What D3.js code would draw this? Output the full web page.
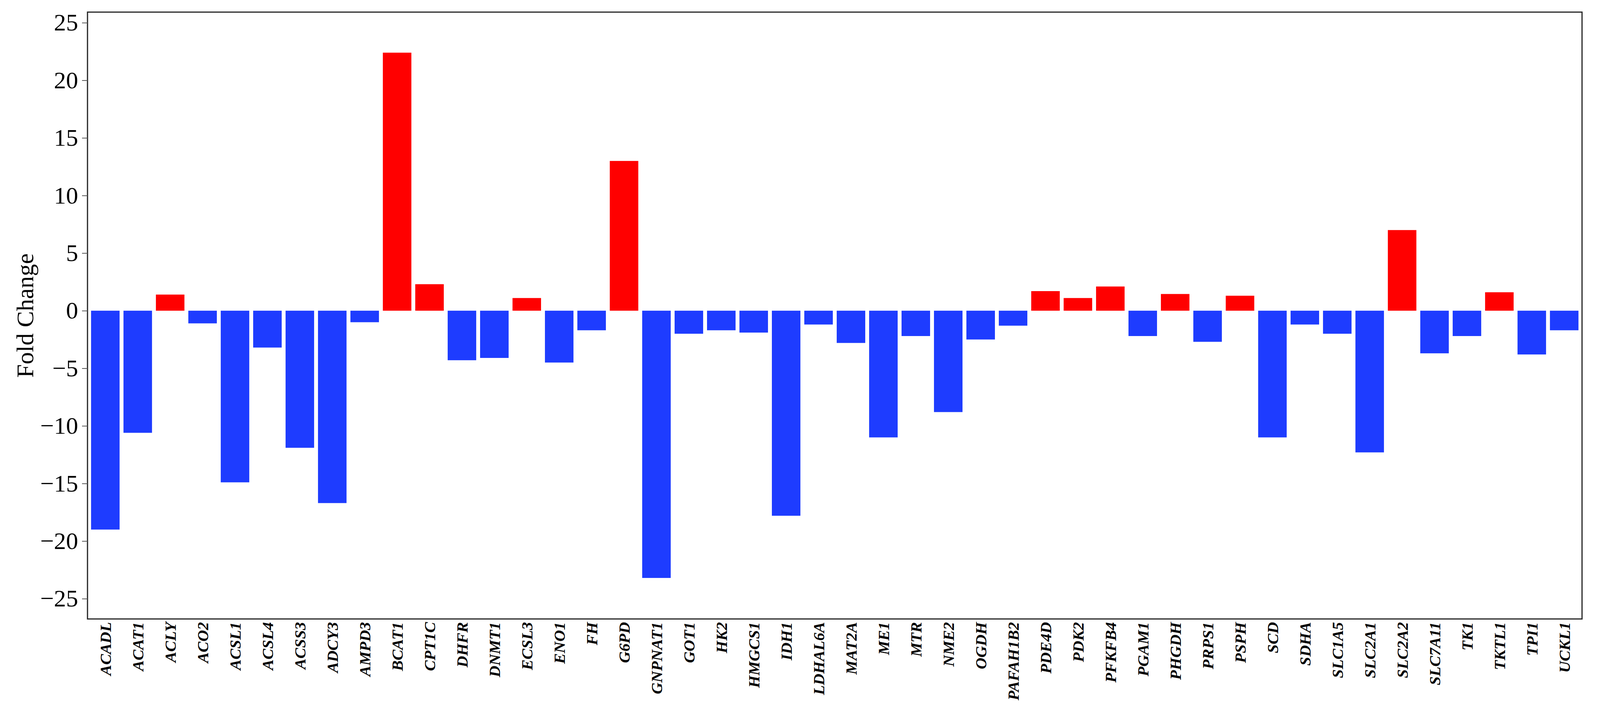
<!DOCTYPE html>
<html>
  <head>
    <meta charset="utf-8">
    <script src="https://d3js.org/d3.v7.min.js"></script>
    <style>
      body { margin: 0; background: #fff; }
      svg { display: block; }
    </style>
  </head>
  <body>
    <svg width="4097" height="1817"></svg>
    <script>
      var genes = ["ACADL", "ACAT1", "ACLY", "ACO2", "ACSL1", "ACSL4", "ACSS3", "ADCY3",
        "AMPD3", "BCAT1", "CPT1C", "DHFR", "DNMT1", "ECSL3", "ENO1", "FH", "G6PD",
        "GNPNAT1", "GOT1", "HK2", "HMGCS1", "IDH1", "LDHAL6A", "MAT2A", "ME1", "MTR",
        "NME2", "OGDH", "PAFAH1B2", "PDE4D", "PDK2", "PFKFB4", "PGAM1", "PHGDH", "PRPS1",
        "PSPH", "SCD", "SDHA", "SLC1A5", "SLC2A1", "SLC2A2", "SLC7A11", "TK1", "TKTL1",
        "TPI1", "UCKL1"];
      var foldChange = [-19.0, -10.6, 1.4, -1.1, -14.9, -3.2, -11.9, -16.7,
        -1.0, 22.4, 2.3, -4.3, -4.1, 1.1, -4.5, -1.7, 13.0,
        -23.2, -2.0, -1.7, -1.9, -17.8, -1.2, -2.8, -11.0, -2.2,
        -8.8, -2.5, -1.3, 1.7, 1.1, 2.1, -2.2, 1.45, -2.7,
        1.3, -11.0, -1.2, -2.0, -12.3, 7.0, -3.7, -2.2, 1.6,
        -3.8, -1.7];
      var yTicks = [-25, -20, -15, -10, -5, 0, 5, 10, 15, 20, 25];

      var plotLeft = 224, plotRight = 4050, plotTop = 31, plotBottom = 1584;
      var font = "'Liberation Serif', 'Times New Roman', serif";
      var svg = d3.select("svg");

      var x = d3.scaleBand()
        .domain(genes)
        .range([plotLeft, plotRight])
        .paddingInner(0.12)
        .paddingOuter(0.11);

      var y = d3.scaleLinear()
        .domain([-26.76, 25.92])
        .range([plotBottom, plotTop]);

      // bars
      svg.selectAll("rect.bar")
        .data(genes)
        .enter().append("rect")
        .attr("class", "bar")
        .attr("x", function(d) { return x(d); })
        .attr("width", x.bandwidth())
        .attr("y", function(d, i) { return y(Math.max(0, foldChange[i])); })
        .attr("height", function(d, i) { return Math.abs(y(foldChange[i]) - y(0)); })
        .attr("fill", function(d, i) { return foldChange[i] > 0 ? "#ff0000" : "#1e3cff"; });

      // frame
      svg.append("rect")
        .attr("x", plotLeft).attr("y", plotTop)
        .attr("width", plotRight - plotLeft).attr("height", plotBottom - plotTop)
        .attr("fill", "none")
        .attr("stroke", "#222")
        .attr("stroke-width", 3);

      // y axis
      var yAxis = svg.append("g")
        .attr("transform", "translate(" + plotLeft + ",0)")
        .call(d3.axisLeft(y).tickValues(yTicks).tickSize(14).tickPadding(10));
      yAxis.select(".domain").remove();
      yAxis.selectAll(".tick line").attr("stroke", "#555").attr("stroke-width", 2);
      yAxis.selectAll(".tick text")
        .attr("font-family", font)
        .attr("font-size", 62)
        .attr("fill", "#000");

      // x axis labels
      var xAxis = svg.append("g")
        .attr("transform", "translate(0," + plotBottom + ")")
        .call(d3.axisBottom(x).tickSize(0).tickPadding(0));
      xAxis.select(".domain").remove();
      xAxis.selectAll(".tick text")
        .attr("font-family", font)
        .attr("font-size", 41)
        .attr("font-weight", "bold")
        .attr("font-style", "italic")
        .attr("fill", "#000")
        .attr("text-anchor", "end")
        .attr("dy", "0.35em")
        .attr("transform", "translate(0,8) rotate(-90)")
        .attr("x", 0).attr("y", 0);

      // y label
      svg.append("text")
        .attr("transform", "translate(85," + ((plotTop + plotBottom) / 2) + ") rotate(-90)")
        .attr("text-anchor", "middle")
        .attr("font-family", font)
        .attr("font-size", 62)
        .text("Fold Change");
    </script>
  </body>
</html>
